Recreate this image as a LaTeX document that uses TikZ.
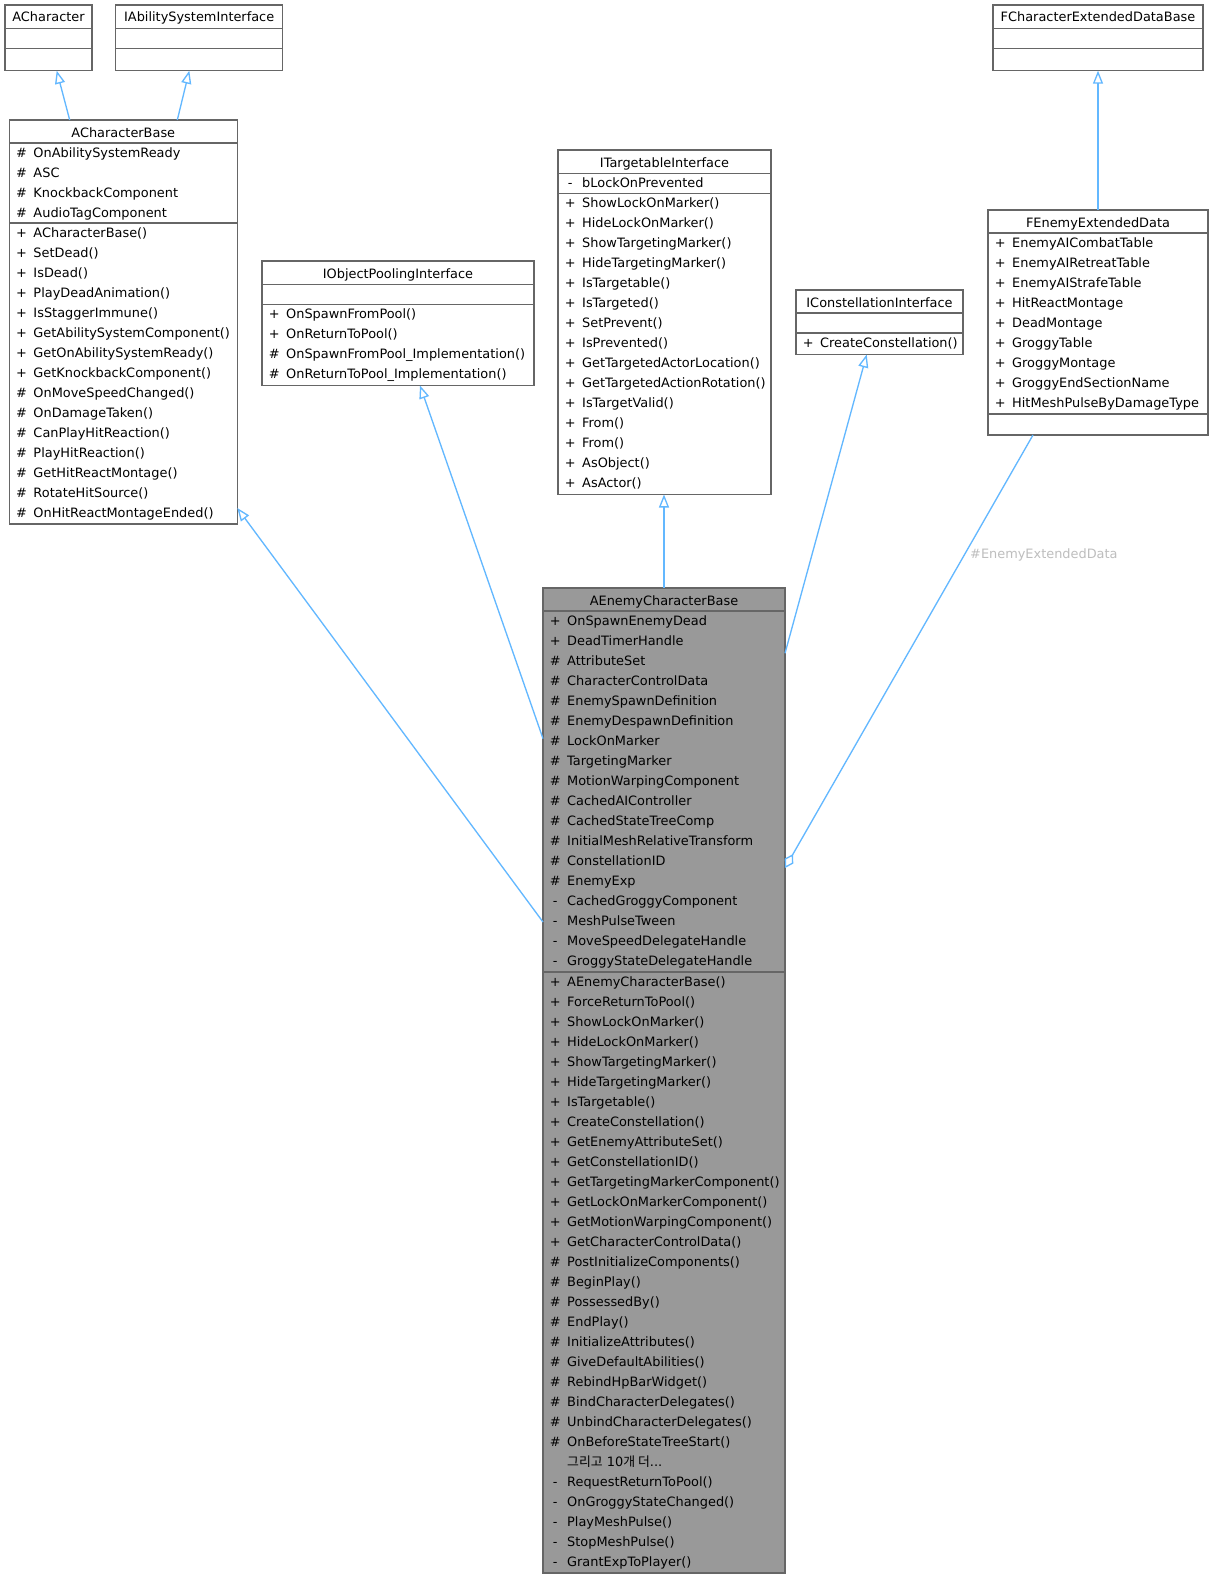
\documentclass[tikz,border=0pt]{standalone}
\usepackage{fontspec}
\setmainfont{DejaVu Sans}
\newfontfamily\cjkfont{Noto Sans CJK KR}
\usetikzlibrary{arrows.meta,calc}
\definecolor{edgeblue}{HTML}{63B8FF}
\definecolor{boxgray}{HTML}{666666}
\definecolor{mainfill}{HTML}{999999}
\definecolor{lblgray}{HTML}{BEBEBE}
\newcommand{\mrow}[2]{\makebox[24pt][c]{#1}#2\strut}
\newcommand{\clsbox}[9]{%
  \node[#1, minimum width=#5pt, minimum height=#6pt] (#2) at (#3,#4) {};
  \node[ttl] (#2-t) at ($(#2.north)+(0,17)$) {#7};
  \draw[divl] ($(#2.north west)+(0,#8)$) -- ($(#2.north east)+(0,#8)$);
  \draw[divl] ($(#2.north west)+(0,#9)$) -- ($(#2.north east)+(0,#9)$);
}
\tikzset{
  cls/.style={draw=boxgray, line width=1.33pt, fill=white, inner sep=0pt, outer sep=0pt, anchor=north west, rectangle},
  clsmain/.style={cls, fill=mainfill},
  divl/.style={draw=boxgray, line width=1.2pt},
  ttl/.style={inner sep=0pt, anchor=base, font=\fontsize{12.9}{20}\selectfont},
  mem/.style={inner sep=0pt, anchor=north west, align=left, font=\fontsize{12.9}{20}\selectfont},
  inh/.style={draw=edgeblue, line width=1.33pt, -{Triangle[open, length=13pt, width=10pt]}},
  agg/.style={draw=edgeblue, line width=1.33pt, -{Diamond[open, length=16pt, width=10pt]}},
  elabel/.style={text=lblgray, inner sep=0pt, anchor=west, font=\fontsize{12.9}{20}\selectfont},
}
\begin{document}
\begin{tikzpicture}[x=1pt, y=-1pt]
\useasboundingbox[fill=white] (0,0) rectangle (1213,1579);

% ---------- boxes ----------
\clsbox{cls}{ach}{5}{5}{87}{65.7}{ACharacter}{23.7}{43.7}
\clsbox{cls}{iasi}{115.7}{5}{167}{65.7}{IAbilitySystemInterface}{23.7}{43.7}
\clsbox{cls}{acb}{9.3}{120}{228}{404}{ACharacterBase}{23}{103}
\clsbox{cls}{iopi}{262}{261}{272}{124.5}{IObjectPoolingInterface}{23.5}{43.5}
\clsbox{cls}{iti}{558}{150}{213}{344.5}{ITargetableInterface}{23.5}{43.5}
\clsbox{cls}{ici}{796}{290}{167}{64.5}{IConstellationInterface}{23}{43}
\clsbox{cls}{fcedb}{993}{5}{210}{65.7}{FCharacterExtendedDataBase}{23.7}{43.7}
\clsbox{cls}{feed}{988}{210}{220}{225}{FEnemyExtendedData}{23}{204}
\clsbox{clsmain}{aecb}{543}{588}{242}{985}{AEnemyCharacterBase}{23}{384}

% ---------- members ----------
\node[mem] (acb-a) at ($(acb.north west)+(0,23)$) {%
\mrow{\#}{OnAbilitySystemReady}\\
\mrow{\#}{ASC}\\
\mrow{\#}{KnockbackComponent}\\
\mrow{\#}{AudioTagComponent}};
\node[mem] (acb-m) at ($(acb.north west)+(0,103)$) {%
\mrow{+}{ACharacterBase()}\\
\mrow{+}{SetDead()}\\
\mrow{+}{IsDead()}\\
\mrow{+}{PlayDeadAnimation()}\\
\mrow{+}{IsStaggerImmune()}\\
\mrow{+}{GetAbilitySystemComponent()}\\
\mrow{+}{GetOnAbilitySystemReady()}\\
\mrow{+}{GetKnockbackComponent()}\\
\mrow{\#}{OnMoveSpeedChanged()}\\
\mrow{\#}{OnDamageTaken()}\\
\mrow{\#}{CanPlayHitReaction()}\\
\mrow{\#}{PlayHitReaction()}\\
\mrow{\#}{GetHitReactMontage()}\\
\mrow{\#}{RotateHitSource()}\\
\mrow{\#}{OnHitReactMontageEnded()}};

\node[mem] (iopi-m) at ($(iopi.north west)+(0,43.5)$) {%
\mrow{+}{OnSpawnFromPool()}\\
\mrow{+}{OnReturnToPool()}\\
\mrow{\#}{OnSpawnFromPool\_Implementation()}\\
\mrow{\#}{OnReturnToPool\_Implementation()}};

\node[mem] (iti-a) at ($(iti.north west)+(0,23.5)$) {%
\mrow{-}{bLockOnPrevented}};
\node[mem] (iti-m) at ($(iti.north west)+(0,43.5)$) {%
\mrow{+}{ShowLockOnMarker()}\\
\mrow{+}{HideLockOnMarker()}\\
\mrow{+}{ShowTargetingMarker()}\\
\mrow{+}{HideTargetingMarker()}\\
\mrow{+}{IsTargetable()}\\
\mrow{+}{IsTargeted()}\\
\mrow{+}{SetPrevent()}\\
\mrow{+}{IsPrevented()}\\
\mrow{+}{GetTargetedActorLocation()}\\
\mrow{+}{GetTargetedActionRotation()}\\
\mrow{+}{IsTargetValid()}\\
\mrow{+}{From()}\\
\mrow{+}{From()}\\
\mrow{+}{AsObject()}\\
\mrow{+}{AsActor()}};

\node[mem] (ici-m) at ($(ici.north west)+(0,43)$) {%
\mrow{+}{CreateConstellation()}};

\node[mem] (feed-a) at ($(feed.north west)+(0,23)$) {%
\mrow{+}{EnemyAICombatTable}\\
\mrow{+}{EnemyAIRetreatTable}\\
\mrow{+}{EnemyAIStrafeTable}\\
\mrow{+}{HitReactMontage}\\
\mrow{+}{DeadMontage}\\
\mrow{+}{GroggyTable}\\
\mrow{+}{GroggyMontage}\\
\mrow{+}{GroggyEndSectionName}\\
\mrow{+}{HitMeshPulseByDamageType}};

\node[mem] (aecb-a) at ($(aecb.north west)+(0,23)$) {%
\mrow{+}{OnSpawnEnemyDead}\\
\mrow{+}{DeadTimerHandle}\\
\mrow{\#}{AttributeSet}\\
\mrow{\#}{CharacterControlData}\\
\mrow{\#}{EnemySpawnDefinition}\\
\mrow{\#}{EnemyDespawnDefinition}\\
\mrow{\#}{LockOnMarker}\\
\mrow{\#}{TargetingMarker}\\
\mrow{\#}{MotionWarpingComponent}\\
\mrow{\#}{CachedAIController}\\
\mrow{\#}{CachedStateTreeComp}\\
\mrow{\#}{InitialMeshRelativeTransform}\\
\mrow{\#}{ConstellationID}\\
\mrow{\#}{EnemyExp}\\
\mrow{-}{CachedGroggyComponent}\\
\mrow{-}{MeshPulseTween}\\
\mrow{-}{MoveSpeedDelegateHandle}\\
\mrow{-}{GroggyStateDelegateHandle}};
\node[mem] (aecb-m) at ($(aecb.north west)+(0,384)$) {%
\mrow{+}{AEnemyCharacterBase()}\\
\mrow{+}{ForceReturnToPool()}\\
\mrow{+}{ShowLockOnMarker()}\\
\mrow{+}{HideLockOnMarker()}\\
\mrow{+}{ShowTargetingMarker()}\\
\mrow{+}{HideTargetingMarker()}\\
\mrow{+}{IsTargetable()}\\
\mrow{+}{CreateConstellation()}\\
\mrow{+}{GetEnemyAttributeSet()}\\
\mrow{+}{GetConstellationID()}\\
\mrow{+}{GetTargetingMarkerComponent()}\\
\mrow{+}{GetLockOnMarkerComponent()}\\
\mrow{+}{GetMotionWarpingComponent()}\\
\mrow{+}{GetCharacterControlData()}\\
\mrow{\#}{PostInitializeComponents()}\\
\mrow{\#}{BeginPlay()}\\
\mrow{\#}{PossessedBy()}\\
\mrow{\#}{EndPlay()}\\
\mrow{\#}{InitializeAttributes()}\\
\mrow{\#}{GiveDefaultAbilities()}\\
\mrow{\#}{RebindHpBarWidget()}\\
\mrow{\#}{BindCharacterDelegates()}\\
\mrow{\#}{UnbindCharacterDelegates()}\\
\mrow{\#}{OnBeforeStateTreeStart()}\\
\mrow{}{{\cjkfont 그리고} 10{\cjkfont 개 더}...}\\
\mrow{-}{RequestReturnToPool()}\\
\mrow{-}{OnGroggyStateChanged()}\\
\mrow{-}{PlayMeshPulse()}\\
\mrow{-}{StopMeshPulse()}\\
\mrow{-}{GrantExpToPlayer()}};

% ---------- connectors ----------
\draw[inh] ($(acb.north west)+(60.4,0)$) -- ($(ach.south west)+(51.7,0)$);
\draw[inh] ($(acb.north west)+(168,0)$) -- ($(iasi.south west)+(73.6,0)$);
\draw[inh] ($(aecb.north west)+(0,334)$) -- ($(acb.north east)+(0,388)$);
\draw[inh] ($(aecb.north west)+(0,150.6)$) -- ($(iopi.south west)+(158,0)$);
\draw[inh] (aecb.north) -- (aecb.north |- iti.south);
\draw[inh] ($(aecb.north east)+(0,65.3)$) -- ($(ici.south west)+(70.7,0)$);
\draw[inh] (feed.north) -- (fcedb.south);
\draw[agg] ($(feed.south west)+(45,0)$) -- ($(aecb.north east)+(0,280)$);
\node[elabel] (e8l) at (970,555) {\#EnemyExtendedData};
\end{tikzpicture}
\end{document}
